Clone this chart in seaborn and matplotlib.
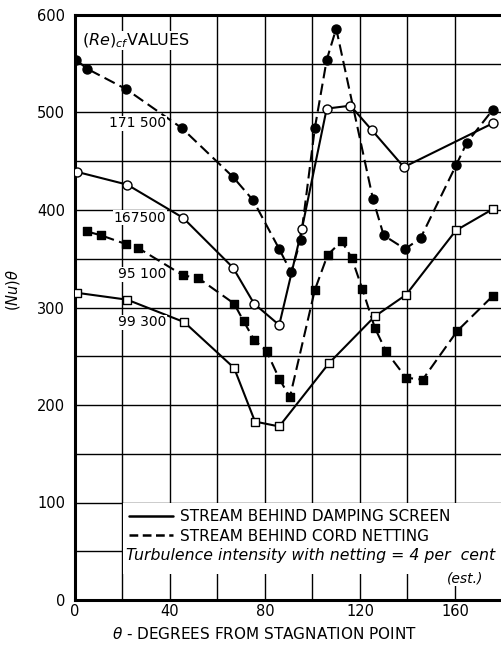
import matplotlib
matplotlib.use("Agg")
import matplotlib.pyplot as plt
from matplotlib.lines import Line2D
from matplotlib.patches import Rectangle
from matplotlib.ticker import MultipleLocator
import seaborn as sns
import pandas as pd

# ---- data ----
theta_171500 = [0.5, 5, 21.5, 45, 66.5, 75, 86, 91, 95, 101, 106, 110, 125.5, 130, 139, 145.5, 160.5, 165, 176]
nu_171500 = [554, 545, 524, 484, 434, 410, 360, 336, 369, 484, 554, 586, 411, 374, 360, 371, 446, 469, 503]

theta_167500 = [1, 22, 45.5, 66.5, 75.4, 86, 95.5, 106, 116, 125, 138.5, 176]
nu_167500 = [439, 426, 392, 341, 304, 282, 380, 504, 507, 482, 444, 489]

theta_95100 = [5, 11, 21.5, 26.6, 45.5, 52, 67, 71, 75.4, 80.7, 86, 90.5, 101, 106.4, 112.3, 116.5, 121,
               126.3, 131, 139.4, 146.4, 161, 176]
nu_95100 = [378, 374, 365, 361, 333, 330, 304, 286, 267, 255, 227, 208, 318, 354, 368, 351, 319,
            279, 255, 228, 226, 276, 312]

theta_99300 = [1, 22, 46, 67, 75.8, 86, 107, 126.3, 139.4, 160.4, 176]
nu_99300 = [315, 308, 285, 238, 183, 178, 243, 291, 313, 379, 401]

curve_labels = ["171 500", "167500", "95 100", "99 300"]
label_y = [489, 392, 334, 285]
x_ticks = [0, 40, 80, 120, 160]
y_ticks = [0, 100, 200, 300, 400, 500, 600]
legend_labels = ["STREAM BEHIND DAMPING SCREEN", "STREAM BEHIND CORD NETTING"]

sns.set_theme(style="white")
plt.rcParams["font.family"] = ["DejaVu Sans"]
plt.rcParams["mathtext.fontset"] = "dejavusans"
plt.rcParams["text.color"] = "black"
plt.rcParams["axes.labelcolor"] = "black"
plt.rcParams["xtick.color"] = "black"
plt.rcParams["ytick.color"] = "black"

fig = plt.figure(figsize=(5.01, 6.46), dpi=100)
ax = fig.add_axes([75 / 501, 46 / 646, 426 / 501, 585 / 646])

dash = (5.5, 2.6)
series = [
    (theta_171500, nu_171500, "o", "black", dash),
    (theta_167500, nu_167500, "o", "white", None),
    (theta_95100, nu_95100, "s", "black", dash),
    (theta_99300, nu_99300, "s", "white", None),
]
for th, nu, mk, fc, ds in series:
    df = pd.DataFrame({"theta": th, "nu": nu})
    sns.lineplot(data=df, x="theta", y="nu", ax=ax, color="black", lw=1.5,
                 errorbar=None, sort=True, linestyle="--" if ds else "-", zorder=3)
    if ds:
        ax.lines[-1].set_dashes(ds)
    sns.scatterplot(data=df, x="theta", y="nu", ax=ax, marker=mk, s=42 if mk == "o" else 38,
                    facecolor=fc, edgecolor="black", linewidth=1.0, zorder=4)

ax.set_xlim(0, 179.4)
ax.set_ylim(0, 600)
ax.set_xticks(x_ticks)
ax.set_yticks(y_ticks)
ax.xaxis.set_minor_locator(MultipleLocator(20))
ax.yaxis.set_minor_locator(MultipleLocator(50))
ax.grid(True, which="both", color="black", lw=1.0)
ax.set_axisbelow(True)
ax.tick_params(axis="both", which="both", length=0, labelsize=10.5, colors="black")
ax.tick_params(axis="y", pad=7)
ax.tick_params(axis="x", pad=3)
for side in ["left", "top", "bottom"]:
    ax.spines[side].set_visible(True)
    ax.spines[side].set_color("black")
    ax.spines[side].set_linewidth(2.2)
ax.spines["right"].set_visible(False)

# white legend area covering the grid
ax.add_patch(Rectangle((20.35, 27), 160, 72.4, facecolor="white", edgecolor="none", zorder=1))

ax.set_xlabel(r"$\theta$ - DEGREES FROM STAGNATION POINT", fontsize=11, color="black", labelpad=4)
ax.xaxis.set_label_coords(0.446, -0.045)
ax.set_ylabel(r"$(Nu)\theta$", fontsize=10.5, color="black", labelpad=8)
ax.yaxis.set_label_coords(-0.125, 0.53)

ax.text(3, 574, r"$(Re)_{cf}$VALUES", fontsize=11.5, ha="left", va="center", zorder=5,
        bbox=dict(facecolor="white", edgecolor="none", pad=0.5))
for lab, yv in zip(curve_labels, label_y):
    ax.text(38.5, yv, lab, fontsize=10, ha="right", va="center", zorder=5,
            bbox=dict(facecolor="white", edgecolor="none", pad=0.3))

handles = [Line2D([], [], color="black", lw=1.8),
           Line2D([], [], color="black", lw=1.8, dashes=(3.5, 1.8))]
leg = ax.legend(handles, legend_labels, loc="upper left", bbox_to_anchor=(0.127, 0.155),
                frameon=False, fontsize=11, handlelength=2.9, handletextpad=0.4,
                labelspacing=0.28, borderaxespad=0, borderpad=0)
leg.set_zorder(6)
for t in leg.get_texts():
    t.set_color("black")
ax.text(21.5, 45.5, "Turbulence intensity with netting = 4 per  cent", fontsize=11.3,
        style="italic", ha="left", va="center", zorder=6)
ax.text(172, 22.5, "(est.)", fontsize=10, style="italic", ha="right", va="center", zorder=6,
        bbox=dict(facecolor="white", edgecolor="none", pad=0.5))

fig.savefig("out.png", dpi=100, facecolor="white")
